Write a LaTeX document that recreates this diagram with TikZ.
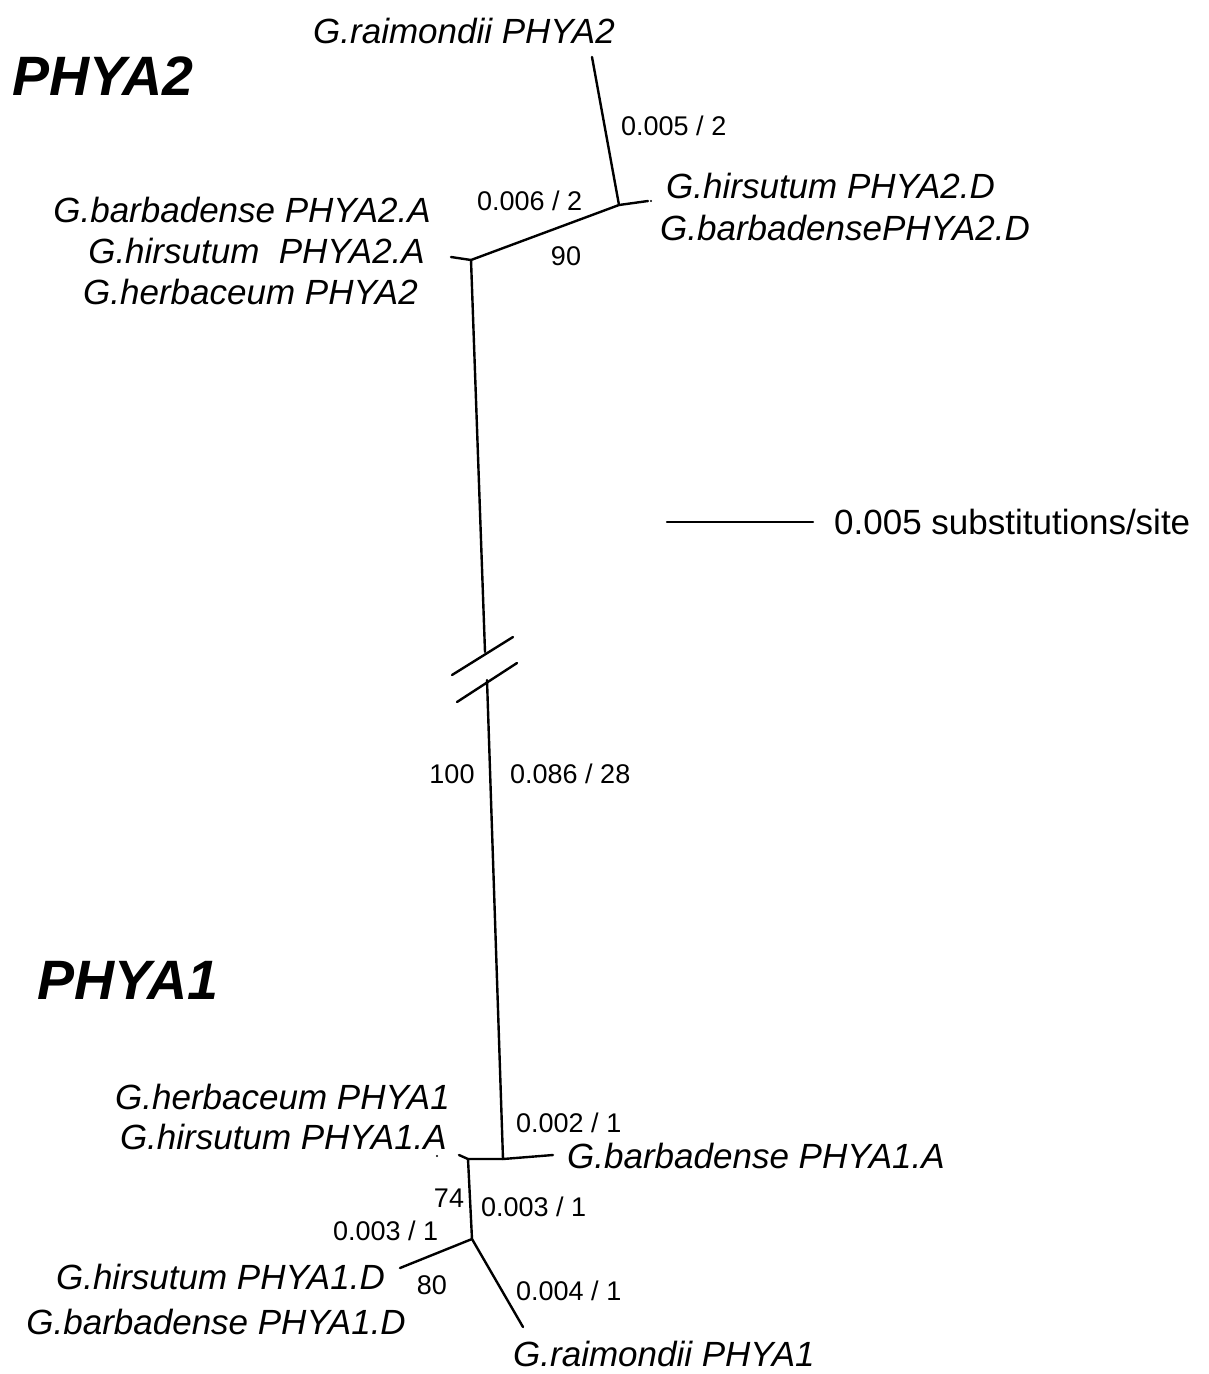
\documentclass[tikz,border=0pt]{standalone}
\usepackage{fontspec}
\setmainfont{Liberation Sans}
\usetikzlibrary{calc}

\begin{document}
\begin{tikzpicture}[x=1pt,y=-1pt,line cap=round,line join=round]
\tikzset{branch/.style={draw=black,line width=2.4pt},
  taxon/.style={inner sep=0pt,font=\fontsize{35}{40}\selectfont\itshape},
  brlen/.style={inner sep=0pt,font=\fontsize{27}{32}\selectfont},
  clade/.style={inner sep=0pt,font=\fontsize{55.5}{60}\selectfont\bfseries\itshape}}
\path[fill=white] (0,0) rectangle (1208,1374);
% clade titles
\node[clade,anchor=base west] (ttwo) at (12,95) {PHYA2};
\node[clade,anchor=base west] (tone) at (37,999) {PHYA1};
% tree junctions and tips
\coordinate (jD2) at (619,205);
\coordinate (jA2) at (471,260);
\coordinate (rai2) at (592,57);
\coordinate (tipD2) at (648,201);
\coordinate (tipA2) at (451,257);
\coordinate (brkT) at (485,652);
\coordinate (brkB) at (487,680);
\coordinate (jB1) at (503,1159);
\coordinate (jA1) at (468,1159);
\coordinate (tipB1) at (553,1155);
\coordinate (tipA1) at (459,1155);
\coordinate (jD1) at (472,1239);
\coordinate (tipD1) at (400,1268);
\coordinate (rai1) at (523,1327);
\draw[branch] (rai2) -- (jD2) -- (tipD2);
\draw[branch] (jD2) -- (jA2) -- (tipA2);
\draw[branch] (jA2) -- (brkT);
\draw[branch] (brkB) -- (jB1) -- (tipB1);
\draw[branch] (jB1) -- (jA1) -- (tipA1);
\draw[branch] (jA1) -- (jD1) -- (tipD1);
\draw[branch] (jD1) -- (rai1);
% tiny zero-length tips
\fill (651,201) circle (1.2pt);
\fill (437,1156) circle (1.2pt);
% break marks
\draw[branch] (452,675) -- (513,637);
\draw[branch] (457,702) -- (517,663);
% scale bar
\coordinate (sbL) at (667,522);
\coordinate (sbR) at (813,522);
\draw[branch] (sbL) -- (sbR);
\node[inner sep=0pt,font=\fontsize{35}{40}\selectfont,anchor=base west] (sbtxt) at (834,534) {0.005 substitutions/site};
% PHYA2 taxa
\node[taxon,anchor=base] (lraim2) at (464,43) {G.raimondii PHYA2};
\node[taxon,anchor=base west] (lhirs2D) at (666,198) {G.hirsutum PHYA2.D};
\node[taxon,anchor=base west] (lbarb2D) at (660,240) {G.barbadensePHYA2.D};
\node[taxon,anchor=base east] (lbarb2A) at (431,222) {G.barbadense PHYA2.A};
\node[taxon,anchor=base east] (lhirs2A) at (425,263) {G.hirsutum\ \ PHYA2.A};
\node[taxon,anchor=base east] (lherb2) at (418,304) {G.herbaceum PHYA2};
% PHYA1 taxa
\node[taxon,anchor=base east] (lherb1) at (450,1109) {G.herbaceum PHYA1};
\node[taxon,anchor=base east] (lhirs1A) at (447,1149) {G.hirsutum PHYA1.A};
\node[taxon,anchor=base west] (lbarb1A) at (567,1168) {G.barbadense PHYA1.A};
\node[taxon,anchor=base east] (lhirs1D) at (385,1289) {G.hirsutum PHYA1.D};
\node[taxon,anchor=base east] (lbarb1D) at (406,1334) {G.barbadense PHYA1.D};
\node[taxon,anchor=base west] (lraim1) at (513,1366) {G.raimondii PHYA1};
% branch lengths and bootstrap
\node[brlen,anchor=base west] (bl1) at (621,135) {0.005 / 2};
\node[brlen,anchor=base west] (bl2) at (477,210) {0.006 / 2};
\node[brlen,anchor=base] (bs1) at (566,265) {90};
\node[brlen,anchor=base] (bs2) at (452,783) {100};
\node[brlen,anchor=base west] (bl3) at (510,783) {0.086 / 28};
\node[brlen,anchor=base west] (bl4) at (516,1132) {0.002 / 1};
\node[brlen,anchor=base] (bs3) at (449,1207) {74};
\node[brlen,anchor=base west] (bl5) at (481,1216) {0.003 / 1};
\node[brlen,anchor=base west] (bl6) at (333,1240) {0.003 / 1};
\node[brlen,anchor=base] (bs4) at (432,1294) {80};
\node[brlen,anchor=base west] (bl7) at (516,1300) {0.004 / 1};
\end{tikzpicture}
\end{document}
